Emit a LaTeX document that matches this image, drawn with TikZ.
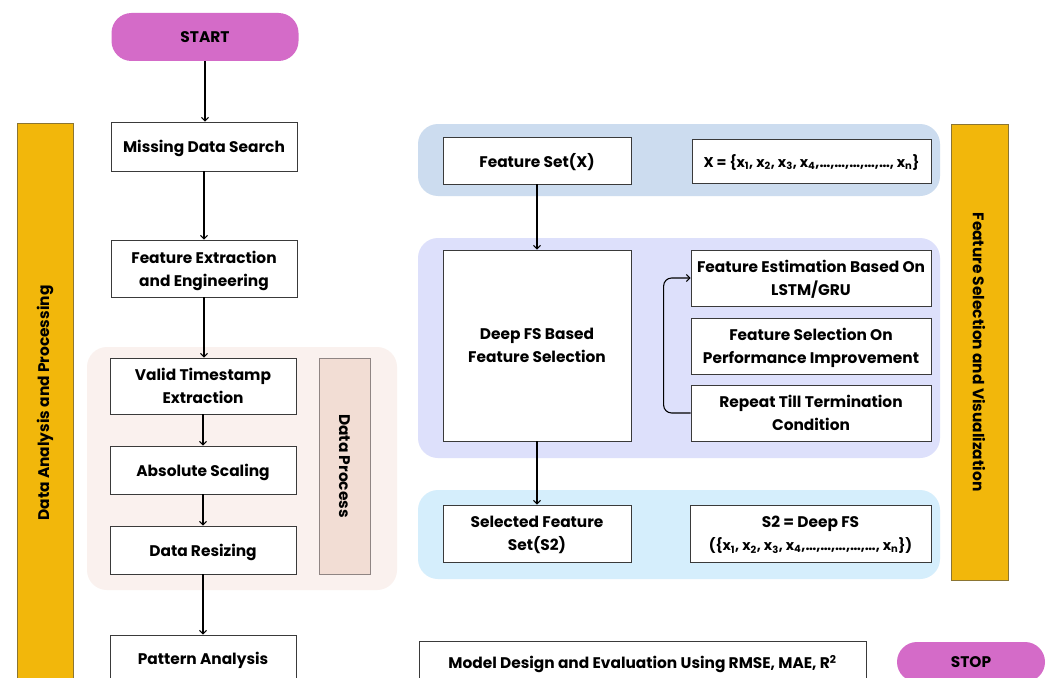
\documentclass[tikz,border=0pt]{standalone}
\usepackage{fontspec}
\setmainfont{Poppins}
\usetikzlibrary{arrows.meta}
\definecolor{pillc}{HTML}{D46BC8}
\definecolor{yel}{HTML}{F2B70B}
\definecolor{yelb}{HTML}{8B7533}
\definecolor{dpbg}{HTML}{FAF1EE}
\definecolor{dpbox}{HTML}{F2DDD4}
\definecolor{dpline}{HTML}{8F8583}
\definecolor{bandA}{HTML}{CCDCEF}
\definecolor{bandB}{HTML}{DDE0FB}
\definecolor{bandC}{HTML}{D5EEFC}
\definecolor{boxline}{HTML}{3A3A3A}
\tikzset{
  txt/.style={font=\bfseries\fontsize{15.4}{23}\selectfont, align=center, text=black},
  small/.style={font=\bfseries\fontsize{14.2}{23}\selectfont},
  box/.style={txt, draw=boxline, fill=white, line width=0.8pt, inner sep=0pt, text depth=-3pt},
  pill/.style={txt, fill=pillc, rounded corners=20pt, inner sep=0pt, text depth=-2pt},
  band/.style={rounded corners=20pt},
  arr/.style={line width=1.1pt, -{Straight Barb[length=3.5pt,width=7pt]}},
  loop/.style={line width=1.1pt, rounded corners=8pt, -{Straight Barb[length=3.5pt,width=7pt]}},
  bar/.style={fill=yel, draw=yelb, line width=0.8pt}
}
\begin{document}
\begin{tikzpicture}[x=1pt,y=-1pt]
\clip (0,0) rectangle (1046,677);
\fill[white] (0,0) rectangle (1046,677);
% background groups
\fill[dpbg, band] (87,347) rectangle (397,590);
\fill[bandA, band] (418,124) rectangle (940,196);
\fill[bandB, band] (418,238) rectangle (940,458);
\fill[bandC, band] (418,490) rectangle (940,579);
% side bars
\draw[bar] (17,123) rectangle (73,700);
\node[txt, rotate=90] (lbl) at (45,403) {Data Analysis and Processing};
\draw[bar] (951,124) rectangle (1008,580);
\node[txt, rotate=-90] (rbl) at (979,352) {Feature Selection and Visualization};
% left column
\node[pill, minimum width=187pt, minimum height=48pt] (start) at (205,37) {START};
\node[box, minimum width=186pt, minimum height=49pt] (mds) at (204,146.5) {Missing Data Search};
\node[box, minimum width=186pt, minimum height=57pt] (fee) at (204,268.5) {Feature Extraction\\and Engineering};
\node[box, minimum width=186pt, minimum height=56pt] (vte) at (203,386) {Valid Timestamp\\Extraction};
\node[box, minimum width=186pt, minimum height=48pt] (abs) at (203,470) {Absolute Scaling};
\node[box, minimum width=186pt, minimum height=48pt] (dr) at (203,550) {Data Resizing};
\node[box, minimum width=186pt, minimum height=46pt] (pa) at (203,658) {Pattern Analysis};
\node[txt, draw=dpline, fill=dpbox, line width=0.8pt, minimum width=216pt, minimum height=51pt, rotate=-90, inner sep=0pt] (dp) at (344.5,466) {Data Process};
\draw[arr] (start.south) -- (start.south |- mds.north);
\draw[arr] (mds.south) -- (mds.south |- fee.north);
\draw[arr] (fee.south) -- (fee.south |- vte.north);
\draw[arr] (vte.south) -- (vte.south |- abs.north);
\draw[arr] (abs.south) -- (abs.south |- dr.north);
\draw[arr] (dr.south) -- (dr.south |- pa.north);
% right side
\node[box, minimum width=188pt, minimum height=47pt] (fs) at (537,160.5) {Feature Set(X)};
\node[box, small, minimum width=239pt, minimum height=44pt] (xset) at (811.5,161) {X = \{x\textsubscript{1}, x\textsubscript{2}, x\textsubscript{3}, x\textsubscript{4},…,…,…,…,…, x\textsubscript{n}\}};
\node[box, minimum width=188pt, minimum height=191pt] (deep) at (537,345.5) {Deep FS Based\\Feature Selection};
\node[box, minimum width=240pt, minimum height=56pt] (fe) at (811,278) {Feature Estimation Based On\\LSTM/GRU};
\node[box, minimum width=240pt, minimum height=56pt] (fsp) at (811,346) {Feature Selection On\\Performance Improvement};
\node[box, minimum width=240pt, minimum height=56pt] (rep) at (811,413) {Repeat Till Termination\\Condition};
\node[box, minimum width=188pt, minimum height=57pt] (sel) at (537,533.5) {Selected Feature\\Set(S2)};
\node[box, minimum width=241pt, minimum height=57pt] (s2) at (810.5,533.5) {S2 = Deep FS\\{\fontsize{14.2}{23}\selectfont(\{x\textsubscript{1}, x\textsubscript{2}, x\textsubscript{3}, x\textsubscript{4},…,…,…,…,…, x\textsubscript{n}\})}};
\node[box, minimum width=447pt, minimum height=42pt] (model) at (642.5,662) {Model Design and Evaluation Using RMSE, MAE, R\textsuperscript{2}};
\node[pill, minimum width=148pt, minimum height=40pt] (stop) at (971,662) {STOP};
\draw[arr] (fs.south) -- (deep.north);
\draw[arr] (deep.south) -- (sel.north);
\draw[loop] (rep.west) -- ++(-27,0) |- (fe.west);
\end{tikzpicture}
\end{document}
